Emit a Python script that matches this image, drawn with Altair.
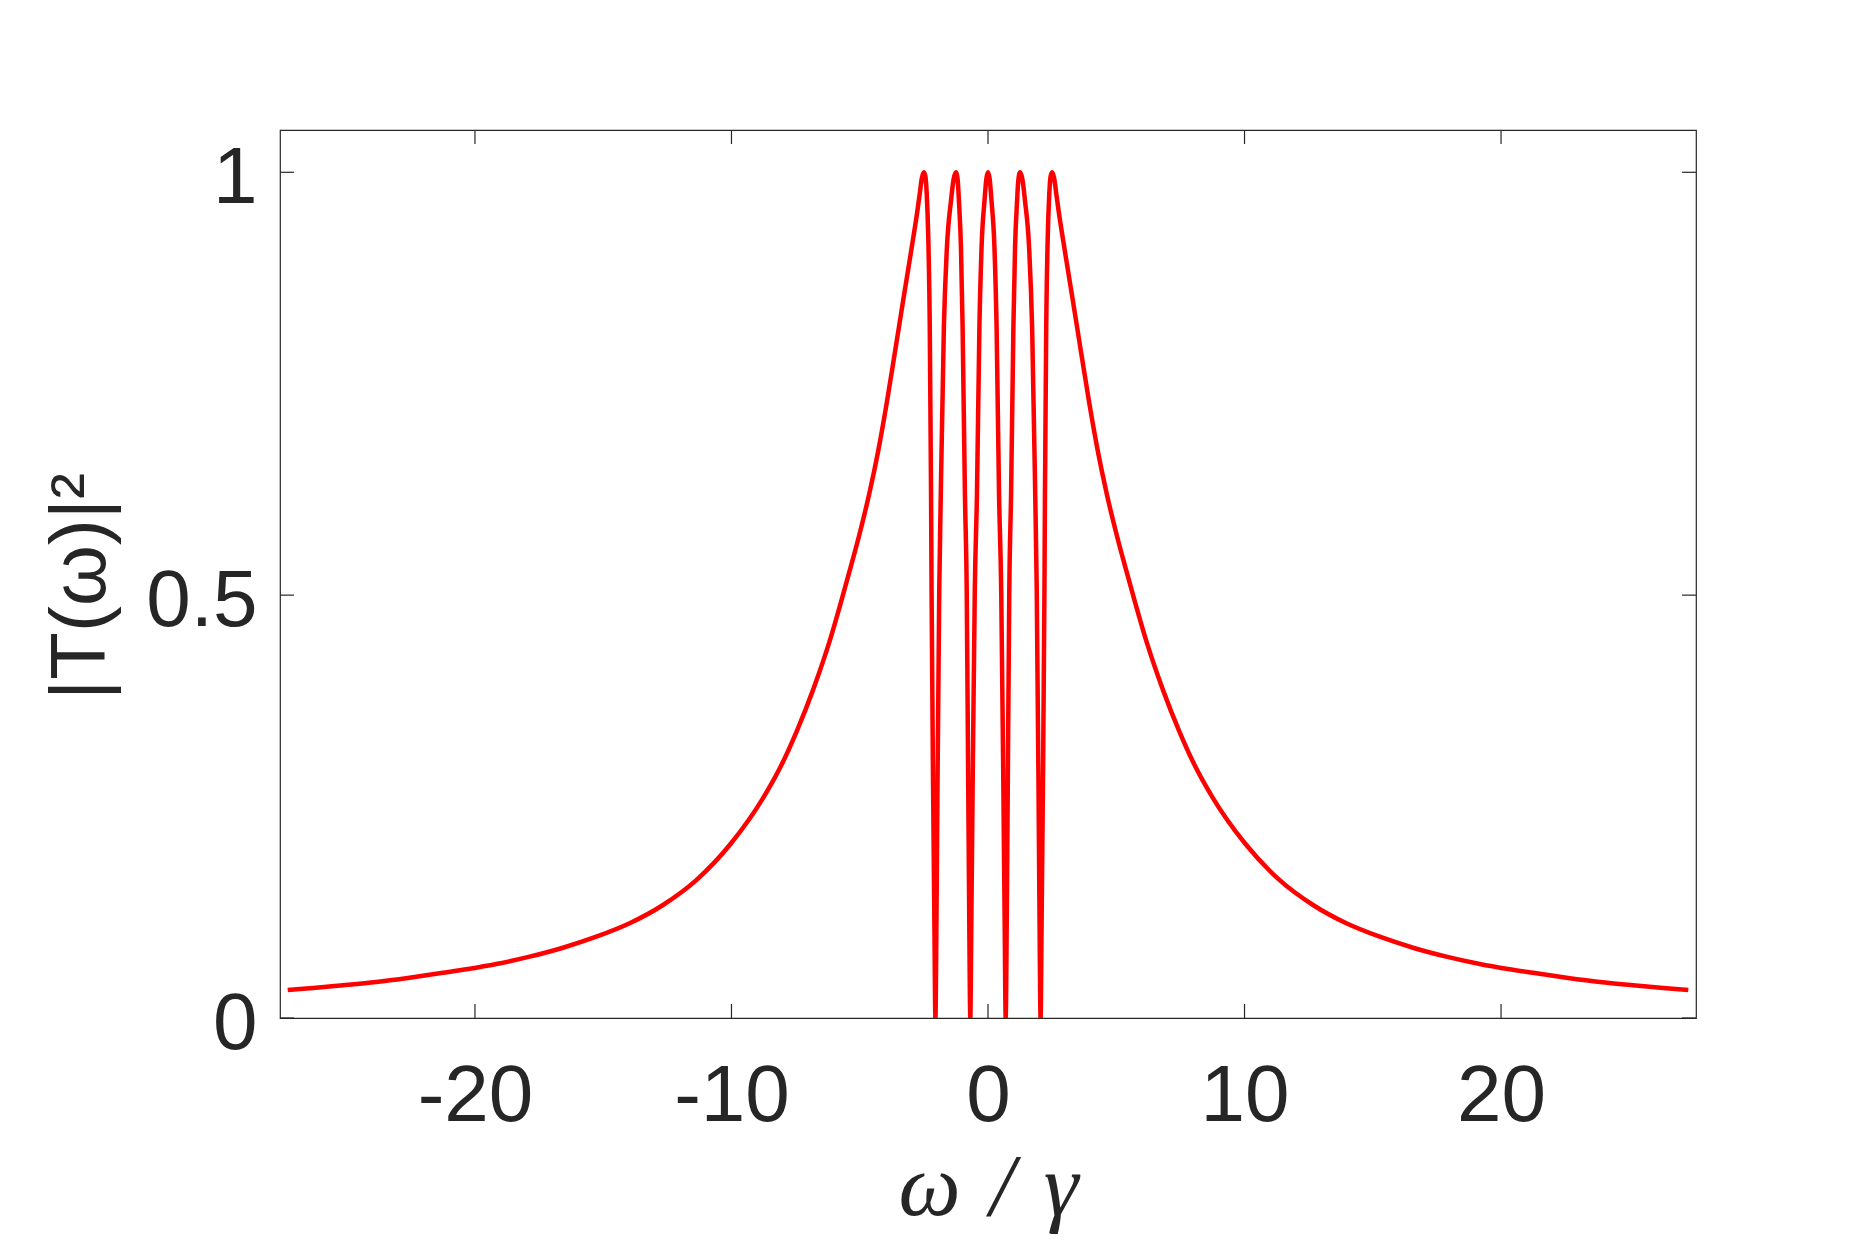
import altair as alt
import pandas as pd

# Values (omega/gamma, |T|^2)
omega = [
    -27.3, -26.45, -25.15, -23.85, -22.55, -21.25, -20.27, -19.17, -17.87, -16.57,
    -15.27, -13.97, -12.67, -11.37, -10.03, -8.77, -7.99, -7.47, -6.82, -6.18,
    -5.72, -5.40, -5.01, -4.62, -4.29, -3.96, -3.64, -3.31, -2.99, -2.75,
    -2.66, -2.58, -2.50,
    -2.44, -2.39, -2.33, -2.27, -2.22, -2.20, -2.14, -2.09, -2.05,
    -2.01, -1.97, -1.90, -1.84, -1.72, -1.60, -1.44, -1.34, -1.25,
    -1.18, -1.135, -1.055, -0.99, -0.90, -0.83, -0.77, -0.73, -0.69,
    -0.65, -0.60, -0.515, -0.43, -0.335, -0.25, -0.135, -0.065, 0.0,
    0.065, 0.135, 0.25, 0.335, 0.43, 0.515, 0.60, 0.65, 0.69,
    0.73, 0.77, 0.83, 0.90, 0.99, 1.055, 1.135, 1.18, 1.25,
    1.34, 1.44, 1.60, 1.72, 1.84, 1.90, 1.97, 2.01, 2.05,
    2.09, 2.14, 2.20, 2.22, 2.27, 2.33, 2.39, 2.44, 2.50,
    2.58, 2.66, 2.75, 2.99, 3.31, 3.64, 3.96, 4.29, 4.62, 5.01,
    5.40, 5.72, 6.18, 6.82, 7.47, 7.99, 8.77, 10.03, 11.37, 12.67,
    13.97, 15.27, 16.57, 17.87, 19.17, 20.27, 21.25, 22.55, 23.85, 25.15,
    26.45, 27.3,
]
transmission = [
    0.033, 0.0352, 0.0387, 0.0426, 0.0477, 0.0534, 0.0579, 0.0638, 0.0725, 0.0831,
    0.0961, 0.112, 0.1336, 0.163, 0.206, 0.260, 0.303, 0.338, 0.388, 0.445,
    0.493, 0.528, 0.572, 0.621, 0.669, 0.725, 0.785, 0.848, 0.908, 0.955,
    0.975, 0.993, 1.0,
    0.995, 0.975, 0.925, 0.817, 0.620, 0.506, 0.270, 0.112, 0.0,
    0.112, 0.270, 0.506, 0.620, 0.817, 0.912, 0.967, 0.992, 1.0,
    0.990, 0.967, 0.912, 0.817, 0.620, 0.506, 0.270, 0.112, 0.0,
    0.112, 0.270, 0.506, 0.620, 0.817, 0.912, 0.967, 0.992, 1.0,
    0.992, 0.967, 0.912, 0.817, 0.620, 0.506, 0.270, 0.112, 0.0,
    0.112, 0.270, 0.506, 0.620, 0.817, 0.912, 0.967, 0.990, 1.0,
    0.992, 0.967, 0.912, 0.817, 0.620, 0.506, 0.270, 0.112, 0.0,
    0.112, 0.270, 0.506, 0.620, 0.817, 0.925, 0.975, 0.995, 1.0,
    0.993, 0.975, 0.955, 0.908, 0.848, 0.785, 0.725, 0.669, 0.621, 0.572,
    0.528, 0.493, 0.445, 0.388, 0.338, 0.303, 0.260, 0.206, 0.163, 0.1336,
    0.112, 0.0961, 0.0831, 0.0725, 0.0638, 0.0579, 0.0534, 0.0477, 0.0426, 0.0387,
    0.0352, 0.033,
]
x_ticks = [-20, -10, 0, 10, 20]
y_ticks = [0, 0.5, 1]

W, H = 1416, 888
AX = "#262626"
TL = 14  # inward tick length

df = pd.DataFrame({"x": omega, "y": transmission})
xt = pd.DataFrame({"t": x_ticks})
yt = pd.DataFrame({"t": y_ticks})

xscale = alt.Scale(domain=[-27.6, 27.6], nice=False, zero=False)
yscale = alt.Scale(domain=[0, 1.05], nice=False, zero=False)

line = alt.Chart(df).mark_line(
    color="#FF0000", strokeWidth=4.5, clip=True, interpolate="monotone"
).encode(
    x=alt.X(
        "x:Q",
        scale=xscale,
        axis=alt.Axis(
            values=x_ticks,
            labelExpr="datum.value + ''",
            labelFont="Liberation Sans",
            labelFontSize=80,
            labelColor=AX,
            labelPadding=39,
            labelFlush=False,
            ticks=False,
            domain=False,
            grid=False,
            title="ω\u2004/\u2004γ",
            titleFont="Liberation Serif",
            titleFontStyle="italic",
            titleFontWeight="normal",
            titleFontSize=88,
            titleColor=AX,
            titleY=196,
            titleBaseline="alphabetic",
        ),
    ),
    y=alt.Y(
        "y:Q",
        scale=yscale,
        axis=alt.Axis(
            values=y_ticks,
            labelExpr="datum.value + ''",
            labelFont="Liberation Sans",
            labelFontSize=80,
            labelColor=AX,
            labelPadding=23,
            labelBaseline="middle",
            labelOffset=6,
            labelFlush=False,
            ticks=False,
            domain=False,
            grid=False,
            title="|T(ω)|²",
            titleFont="Liberation Sans",
            titleFontWeight="normal",
            titleFontSize=78,
            titleColor=AX,
            titleAngle=270,
            titleX=-176,
            titleY=456,
            titleAlign="center",
            titleBaseline="alphabetic",
        ),
    ),
)

tick_style = dict(color=AX, strokeWidth=1.2)
bottom_ticks = alt.Chart(xt).mark_rule(**tick_style).encode(
    x=alt.X("t:Q", scale=xscale, axis=None), y=alt.value(H), y2=alt.value(H - TL)
)
top_ticks = alt.Chart(xt).mark_rule(**tick_style).encode(
    x=alt.X("t:Q", scale=xscale, axis=None), y=alt.value(0), y2=alt.value(TL)
)
left_ticks = alt.Chart(yt).mark_rule(**tick_style).encode(
    y=alt.Y("t:Q", scale=yscale, axis=None), x=alt.value(0), x2=alt.value(TL)
)
right_ticks = alt.Chart(yt).mark_rule(**tick_style).encode(
    y=alt.Y("t:Q", scale=yscale, axis=None), x=alt.value(W), x2=alt.value(W - TL)
)

chart = (
    alt.layer(line, bottom_ticks, top_ticks, left_ticks, right_ticks)
    .resolve_axis(x="independent", y="independent")
    .properties(
        width=W,
        height=H,
        autosize=alt.AutoSizeParams(type="none"),
        padding={"left": 272, "top": 122, "right": 150, "bottom": 218},
        background="white",
    )
    .configure_view(stroke=AX, strokeWidth=1.2)
)

chart.save("out.html", embed_options={"renderer": "svg", "actions": False})
